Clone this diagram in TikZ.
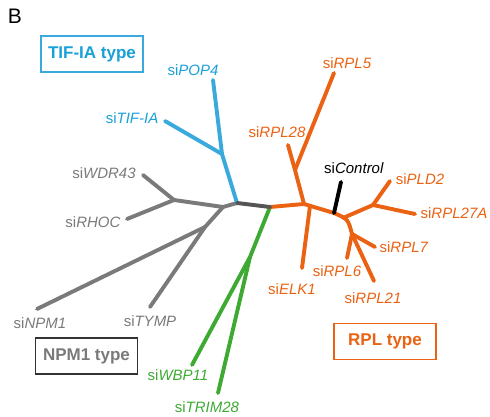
\documentclass[tikz,border=0pt]{standalone}
\usepackage{fontspec}
\setmainfont{Liberation Sans}
\usetikzlibrary{positioning}
\definecolor{rplor}{RGB}{234,98,18}
\definecolor{tifblue}{RGB}{58,170,220}
\definecolor{tiftext}{RGB}{25,160,215}
\definecolor{npmgray}{RGB}{122,122,122}
\definecolor{trunkgray}{RGB}{85,85,85}
\definecolor{wbpgreen}{RGB}{62,170,52}

\begin{document}
\begin{tikzpicture}[x=1pt,y=-1pt,
  br/.style={line width=3.9pt,line cap=round,line join=round},
  lab/.style={inner sep=0pt,text height=11pt,text depth=0pt,font=\fontsize{15}{17}\selectfont},
  typebox/.style={draw,line width=1.1pt,minimum width=102pt,minimum height=36pt,font=\fontsize{17}{19}\selectfont\bfseries}]
  \useasboundingbox (0,0) rectangle (490,417);
  \node[inner sep=0pt,text height=15pt,text depth=0pt,font=\fontsize{21}{24}\selectfont] (panel) at (15,16) {B};

  % branch points and tips
  \coordinate (root) at (237,203);
  \coordinate (hub) at (270,207);
  \coordinate (tif) at (222,154);
  \coordinate (pop4) at (213,80);
  \coordinate (tifia) at (165,121);
  \coordinate (g1) at (223,207);
  \coordinate (g2) at (174,200);
  \coordinate (g3) at (205,227);
  \coordinate (wdr43) at (143,175);
  \coordinate (rhoc) at (127,219);
  \coordinate (npm1) at (37,309);
  \coordinate (tymp) at (150,307);
  \coordinate (gr) at (250,257);
  \coordinate (wbp11) at (192,365);
  \coordinate (trim28) at (218,393);
  \coordinate (o1) at (304,204);
  \coordinate (o2) at (295,170);
  \coordinate (rpl28) at (288,145);
  \coordinate (rpl5) at (334,73);
  \coordinate (o3) at (310,206);
  \coordinate (elk1) at (302,268);
  \coordinate (ctl) at (334,213);
  \coordinate (control) at (341,182);
  \coordinate (o4) at (343,218);
  \coordinate (o5) at (373,205);
  \coordinate (pld2) at (390,181);
  \coordinate (rpl27a) at (415,214);
  \coordinate (o6) at (352,234);
  \coordinate (rpl7) at (375,247);
  \coordinate (rpl6) at (347,258);
  \coordinate (rpl21) at (374,281);

  \path[br,npmgray]
  (root) edge (g1)
  (g1) edge (g2)
  edge (g3)
  (g2) edge (wdr43)
  edge (rhoc)
  (g3) edge (npm1)
  edge (tymp);
  \path[br,tifblue]
  (root) edge (tif)
  (tif) edge (pop4)
  edge (tifia);
  \path[br,wbpgreen]
  (hub) edge (gr)
  (gr) edge (wbp11)
  edge (trim28);
  \path[br,rplor]
  (hub) edge (o1)
  (o1) edge (o2)
  edge (ctl)
  (o2) edge (rpl28)
  edge (rpl5)
  (o3) edge (elk1)
  (o4) edge (o5)
  (o5) edge (pld2)
  edge (rpl27a)
  (o6) edge (rpl7)
  edge (rpl6)
  edge (rpl21);
  \draw[br,rplor] (ctl) .. controls (348,219) .. (o6);
  \path[br,trunkgray] (root) edge (hub);
  \path[br,black] (ctl) edge (control);

  % leaf labels
  \node[lab,tiftext] (lpop4) at (193,70) {si\textit{POP4}};
  \node[lab,tiftext] (ltifia) at (132,118) {si\textit{TIF-IA}};
  \node[lab,npmgray] (lwdr43) at (104,173) {si\textit{WDR43}};
  \node[lab,npmgray] (lrhoc) at (93,222) {si\textit{RHOC}};
  \node[lab,npmgray] (lnpm1) at (40,323) {si\textit{NPM1}};
  \node[lab,npmgray] (ltymp) at (150,321) {si\textit{TYMP}};
  \node[lab,wbpgreen] (lwbp11) at (178,375) {si\textit{WBP11}};
  \node[lab,wbpgreen] (ltrim28) at (207,407) {si\textit{TRIM28}};
  \node[lab,rplor] (lrpl5) at (347,63) {si\textit{RPL5}};
  \node[lab,rplor] (lrpl28) at (277,132) {si\textit{RPL28}};
  \node[lab,black] (lcontrol) at (354,168) {si\textit{Control}};
  \node[lab,rplor] (lpld2) at (420,179) {si\textit{PLD2}};
  \node[lab,rplor] (lrpl27a) at (454,213) {si\textit{RPL27A}};
  \node[lab,rplor] (lrpl7) at (404,247) {si\textit{RPL7}};
  \node[lab,rplor] (lrpl6) at (337,271) {si\textit{RPL6}};
  \node[lab,rplor] (lelk1) at (292,289) {si\textit{ELK1}};
  \node[lab,rplor] (lrpl21) at (373,298) {si\textit{RPL21}};

  % group boxes
  \node[typebox,draw=tifblue,text=tiftext] (tifbox) at (92,54) {TIF-IA type};
  \node[typebox,draw=black!80,text=npmgray] (npmbox) at (86.5,356) {NPM1 type};
  \node[typebox,draw=rplor,text=rplor] (rplbox) at (385,341.5) {RPL type};
\end{tikzpicture}
\end{document}
